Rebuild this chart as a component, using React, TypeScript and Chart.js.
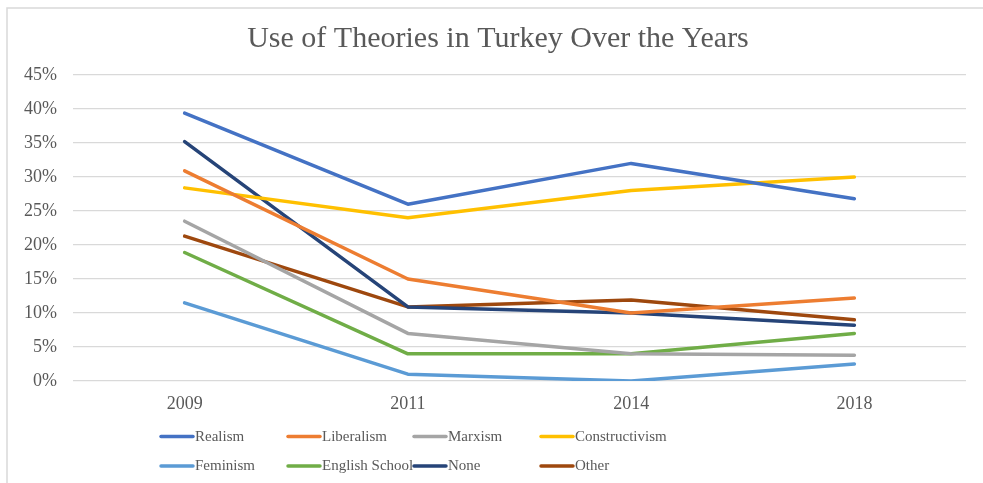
import React, { useEffect, useRef } from "react";
import { Chart, registerables } from "chart.js";

Chart.register(...registerables);

const years = ["2009", "2011", "2014", "2018"];
const yTicks = [0, 5, 10, 15, 20, 25, 30, 35, 40, 45];

const realism = [39.4, 26.0, 32.0, 26.8];
const liberalism = [30.9, 15.0, 10.0, 12.2];
const marxism = [23.5, 7.0, 4.0, 3.8];
const constructivism = [28.4, 24.0, 28.0, 30.0];
const feminism = [11.5, 1.0, 0.0, 2.5];
const englishSchool = [18.9, 4.0, 4.0, 7.0];
const none = [35.2, 10.9, 10.0, 8.2];
const other = [21.3, 10.9, 11.9, 9.0];

const seriesNames = ["Realism", "Liberalism", "Marxism", "Constructivism", "Feminism", "English School", "None", "Other"];
const seriesValues = [realism, liberalism, marxism, constructivism, feminism, englishSchool, none, other];
const seriesColors = ["#4472C4", "#ED7D31", "#A5A5A5", "#FFC000", "#5B9BD5", "#70AD47", "#264478", "#9E480E"];

const titleText = "Use of Theories in Turkey Over the Years";
const FONT = "'Liberation Serif', 'Times New Roman', serif";
const TEXT_COLOR = "#595959";
const GRID_COLOR = "#d9d9d9";

const decorPlugin = {
  id: "decor",
  beforeDraw(chart: any) {
    const ctx = chart.ctx;
    ctx.save();
    ctx.fillStyle = "#ffffff";
    ctx.fillRect(0, 0, chart.width, chart.height);
    ctx.strokeStyle = GRID_COLOR;
    ctx.lineWidth = 1.5;
    ctx.beginPath();
    ctx.moveTo(7, chart.height);
    ctx.lineTo(7, 8);
    ctx.lineTo(chart.width, 8);
    ctx.stroke();
    ctx.restore();
  },
  afterDraw(chart: any) {
    const ctx = chart.ctx;
    ctx.save();
    // title
    ctx.fillStyle = TEXT_COLOR;
    ctx.font = `30px ${FONT}`;
    ctx.textAlign = "center";
    ctx.textBaseline = "alphabetic";
    ctx.fillText(titleText, 498, 47);
    // legend
    const cols = [160, 287, 413, 540];
    const rows = [436.5, 466];
    ctx.font = `15px ${FONT}`;
    ctx.textAlign = "left";
    ctx.textBaseline = "middle";
    chart.data.datasets.forEach((ds: any, i: number) => {
      const x = cols[i % 4];
      const y = rows[Math.floor(i / 4)];
      ctx.strokeStyle = ds.borderColor;
      ctx.lineWidth = 3.5;
      ctx.lineCap = "round";
      ctx.beginPath();
      ctx.moveTo(x + 1, y);
      ctx.lineTo(x + 33, y);
      ctx.stroke();
      ctx.fillStyle = TEXT_COLOR;
      ctx.fillText(ds.label, x + 35, y + 0.5);
    });
    ctx.restore();
  },
};

export default function App() {
  const canvasRef = useRef<HTMLCanvasElement | null>(null);

  useEffect(() => {
    if (!canvasRef.current) return;
    const chart = new Chart(canvasRef.current, {
      type: "line",
      data: {
        labels: years,
        datasets: seriesNames.map((name, i) => ({
          label: name,
          data: seriesValues[i],
          borderColor: seriesColors[i],
          backgroundColor: seriesColors[i],
          borderWidth: 3.5,
          borderCapStyle: "round" as const,
          borderJoinStyle: "round" as const,
          pointRadius: 0,
          tension: 0,
          fill: false,
        })),
      },
      options: {
        animation: false,
        responsive: true,
        maintainAspectRatio: false,
        layout: { padding: { left: 10, right: 17, top: 75, bottom: 70 } },
        plugins: {
          legend: { display: false },
          title: { display: false },
          tooltip: { enabled: false },
        },
        scales: {
          x: {
            offset: true,
            grid: { display: false, drawTicks: false },
            border: { display: false },
            ticks: {
              color: TEXT_COLOR,
              font: { family: FONT, size: 18 },
              padding: 12,
              maxRotation: 0,
            },
            afterFit(scale: any) {
              scale.height = 32;
            },
          },
          y: {
            min: 0,
            max: 45,
            afterBuildTicks(scale: any) {
              scale.ticks = yTicks.map((v) => ({ value: v }));
            },
            grid: { color: GRID_COLOR, lineWidth: 1.2, drawTicks: false },
            border: { display: false },
            ticks: {
              color: TEXT_COLOR,
              font: { family: FONT, size: 18 },
              padding: 16,
              callback: (v: any) => `${v}%`,
            },
            afterFit(scale: any) {
              scale.width = 63;
            },
          },
        },
      },
      plugins: [decorPlugin],
    });
    return () => chart.destroy();
  }, []);

  return (
    <div style={{ position: "fixed", left: 0, top: 0, width: 983, height: 483, background: "#fff" }}>
      <canvas ref={canvasRef} />
    </div>
  );
}
